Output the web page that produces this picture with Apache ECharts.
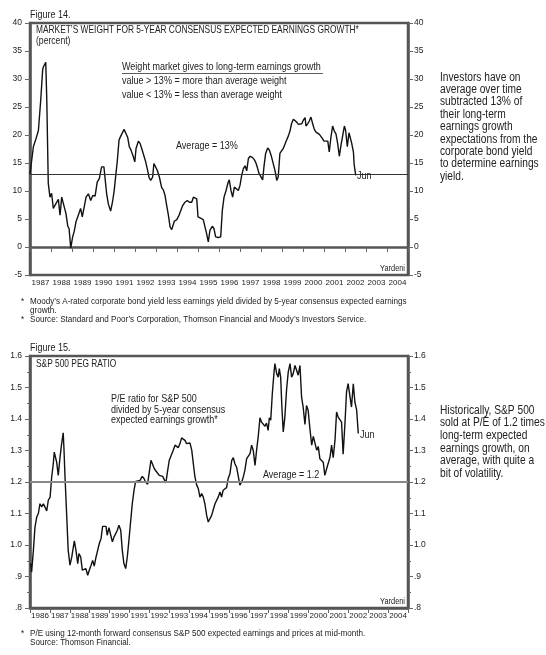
<!DOCTYPE html>
<html><head><meta charset="utf-8">
<script src="https://cdn.jsdelivr.net/npm/echarts@6/dist/echarts.min.js"></script>
<style>html,body{margin:0;padding:0;background:#fff;}#c{width:546px;height:655px;}</style>
</head><body><div id="c"></div>
<script>
const years1 = ['1987','1988','1989','1990','1991','1992','1993','1994','1995','1996','1997','1998','1999','2000','2001','2002','2003','2004'];
const years2 = ['1986','1987','1988','1989','1990','1991','1992','1993','1994','1995','1996','1997','1998','1999','2000','2001','2002','2003','2004'];

// Figure 14: market's weight (percent), dates in decimal years
const t1 = [1987.00,1987.16,1987.29,1987.40,1987.51,1987.60,1987.63,1987.75,1987.80,1987.87,1987.95,1988.03,1988.11,1988.24,1988.35,1988.43,1988.51,1988.59,1988.71,1988.80,1988.86,1988.94,1989.03,1989.10,1989.19,1989.25,1989.33,1989.41,1989.49,1989.57,1989.67,1989.78,1989.82,1989.89,1989.99,1990.10,1990.20,1990.30,1990.41,1990.52,1990.59,1990.65,1990.73,1990.84,1990.94,1991.01,1991.08,1991.16,1991.24,1991.32,1991.40,1991.48,1991.57,1991.65,1991.73,1991.81,1991.92,1991.99,1992.05,1992.16,1992.24,1992.32,1992.40,1992.51,1992.60,1992.67,1992.75,1992.84,1992.90,1992.99,1993.06,1993.16,1993.27,1993.35,1993.43,1993.51,1993.59,1993.67,1993.75,1993.80,1993.87,1993.99,1994.10,1994.18,1994.27,1994.38,1994.49,1994.59,1994.70,1994.78,1994.86,1994.94,1995.00,1995.10,1995.25,1995.33,1995.41,1995.49,1995.57,1995.68,1995.76,1995.84,1995.97,1996.08,1996.16,1996.24,1996.33,1996.44,1996.49,1996.57,1996.65,1996.73,1996.81,1996.92,1997.00,1997.08,1997.16,1997.24,1997.32,1997.40,1997.48,1997.59,1997.68,1997.76,1997.82,1997.90,1997.99,1998.08,1998.14,1998.22,1998.32,1998.40,1998.48,1998.56,1998.67,1998.75,1998.82,1998.90,1998.98,1999.06,1999.14,1999.22,1999.30,1999.38,1999.46,1999.54,1999.62,1999.70,1999.78,1999.86,1999.94,2000.01,2000.10,2000.14,2000.22,2000.30,2000.38,2000.46,2000.54,2000.62,2000.70,2000.78,2000.86,2000.92,2001.00,2001.08,2001.18,2001.25,2001.33,2001.41,2001.49,2001.57,2001.65,2001.73,2001.81,2001.89,2001.97,2002.03,2002.11,2002.19,2002.24,2002.32,2002.40,2002.44,2002.51];
const v1 = [13.0,17.9,19.4,20.8,26.2,31.5,32.1,33.0,26.2,11.4,8.9,9.6,6.9,7.8,8.5,5.7,8.9,8.6,6.0,3.7,3.3,-0.2,1.8,2.7,4.5,4.2,6.0,6.9,5.4,5.7,8.9,9.5,9.4,8.3,9.2,9.1,11.6,12.2,14.3,14.3,14.0,9.5,7.7,6.4,8.3,10.1,9.8,15.5,19.1,19.8,19.9,21.0,20.7,19.6,17.9,17.3,16.1,15.2,17.6,18.9,18.5,17.6,17.4,15.2,13.7,12.4,11.9,12.5,14.9,14.9,13.7,12.5,10.6,10.2,9.2,7.4,5.7,3.6,3.1,3.3,4.6,4.9,5.7,6.0,7.4,8.0,8.3,8.0,8.0,8.9,9.2,8.6,5.4,5.2,4.9,4.8,2.4,0.9,3.0,3.7,3.3,1.8,1.7,1.8,6.6,8.9,10.0,11.6,12.0,10.1,8.9,10.7,10.4,10.1,11.0,12.8,14.0,14.5,13.6,15.8,16.2,16.0,15.6,15.0,14.3,13.2,13.1,12.0,14.3,16.7,17.7,17.3,16.4,16.7,13.6,11.9,12.5,16.7,16.7,17.6,17.9,19.1,19.8,20.7,22.1,22.8,22.7,22.3,21.9,21.9,22.0,22.6,23.1,21.6,22.0,22.5,23.2,22.0,21.0,20.5,20.7,20.1,20.2,19.4,18.9,18.8,18.9,17.0,19.6,21.6,20.7,20.2,18.5,16.2,18.2,19.9,21.6,20.8,17.9,20.4,20.5,18.5,17.0,14.6,12.8];
const avg1 = 13;

// Figure 15: S&P 500 PEG ratio
const t2 = [1986.04,1986.08,1986.17,1986.25,1986.34,1986.42,1986.50,1986.59,1986.67,1986.75,1986.84,1986.92,1987.01,1987.09,1987.17,1987.22,1987.34,1987.42,1987.51,1987.59,1987.67,1987.71,1987.76,1987.84,1987.92,1988.01,1988.10,1988.18,1988.23,1988.31,1988.40,1988.46,1988.55,1988.63,1988.71,1988.81,1988.90,1988.98,1989.07,1989.15,1989.23,1989.32,1989.40,1989.48,1989.57,1989.65,1989.73,1989.82,1989.88,1989.97,1990.06,1990.14,1990.22,1990.31,1990.39,1990.47,1990.56,1990.64,1990.72,1990.81,1990.89,1990.97,1991.06,1991.14,1991.23,1991.31,1991.39,1991.53,1991.64,1991.73,1991.81,1991.91,1991.99,1992.08,1992.17,1992.25,1992.33,1992.42,1992.50,1992.58,1992.67,1992.75,1992.83,1992.92,1993.00,1993.09,1993.20,1993.29,1993.37,1993.45,1993.54,1993.62,1993.70,1993.79,1993.87,1993.95,1994.04,1994.13,1994.21,1994.29,1994.38,1994.46,1994.54,1994.63,1994.71,1994.79,1994.88,1994.96,1995.05,1995.13,1995.21,1995.30,1995.38,1995.46,1995.55,1995.63,1995.71,1995.80,1995.88,1995.96,1996.05,1996.14,1996.22,1996.30,1996.39,1996.47,1996.55,1996.64,1996.72,1996.80,1996.89,1996.97,1997.06,1997.14,1997.22,1997.31,1997.39,1997.47,1997.56,1997.64,1997.72,1997.81,1997.89,1997.97,1998.03,1998.10,1998.18,1998.26,1998.31,1998.40,1998.48,1998.53,1998.60,1998.66,1998.73,1998.81,1998.90,1998.98,1999.07,1999.15,1999.23,1999.32,1999.40,1999.48,1999.57,1999.65,1999.73,1999.82,1999.90,1999.98,2000.07,2000.16,2000.24,2000.32,2000.41,2000.49,2000.57,2000.66,2000.74,2000.82,2000.91,2000.99,2001.08,2001.16,2001.24,2001.33,2001.41,2001.49,2001.58,2001.66,2001.74,2001.83,2001.91,2001.99,2002.08,2002.16,2002.25,2002.33,2002.42,2002.50];
const v2 = [0.941,0.914,0.983,1.057,1.089,1.100,1.131,1.121,1.131,1.121,1.108,1.142,1.152,1.216,1.258,1.295,1.263,1.221,1.279,1.322,1.356,1.301,1.216,1.100,0.983,0.936,0.962,0.994,1.013,0.983,0.941,0.973,0.962,0.920,0.914,0.925,0.904,0.920,0.936,0.951,0.933,0.962,0.983,1.004,1.020,1.059,1.057,1.059,1.031,1.055,1.031,1.010,1.025,1.023,1.047,1.063,1.047,0.983,0.941,0.925,0.962,1.013,1.010,1.131,1.174,1.202,1.200,1.205,1.218,1.211,1.200,1.193,1.195,1.269,1.271,1.242,1.235,1.235,1.221,1.222,1.218,1.216,1.197,1.237,1.269,1.263,1.301,1.317,1.311,1.309,1.322,1.340,1.345,1.332,1.322,1.327,1.324,1.301,1.258,1.216,1.190,1.179,1.152,1.163,1.152,1.131,1.094,1.073,1.070,1.094,1.112,1.131,1.137,1.152,1.168,1.152,1.174,1.179,1.182,1.211,1.226,1.269,1.277,1.258,1.246,1.242,1.190,1.200,1.216,1.237,1.274,1.269,1.290,1.317,1.301,1.253,1.301,1.343,1.404,1.390,1.385,1.377,1.387,1.364,1.404,1.396,1.481,1.544,1.576,1.544,1.533,1.560,1.533,1.438,1.359,1.406,1.496,1.549,1.576,1.533,1.544,1.570,1.555,1.539,1.570,1.470,1.438,1.383,1.443,1.428,1.369,1.317,1.345,1.343,1.301,1.313,1.274,1.269,1.263,1.221,1.242,1.248,1.279,1.317,1.277,1.332,1.422,1.406,1.412,1.390,1.288,1.385,1.486,1.512,1.514,1.438,1.512,1.454,1.428,1.354];
const avg2 = 1.2;

const FONT = "'Liberation Sans',Arial,sans-serif";
const SX = 0.82;           // horizontal squeeze to mimic a narrow face
const TXT = '#222';
const AX = '#555';

const chart = echarts.init(document.getElementById('c'), null, {renderer:'canvas'});

function valueX(grid, min, max){
  return {gridIndex:grid, type:'value', position:'top', min:min, max:max, show:false};
}
function catX(grid, data){
  return {gridIndex:grid, type:'category', position:'bottom', data:data, boundaryGap:true,
    axisLine:{show:true, lineStyle:{color:AX, width:2.5}},
    axisTick:{show:true, length:5, interval:0, lineStyle:{color:'#666', width:1}},
    axisLabel:{fontFamily:FONT, fontSize:8, color:TXT, margin:4, interval:0, hideOverlap:false},
    splitLine:{show:false}};
}
function yAx(grid, pos, min, max, interval, fmt, minor){
  return {gridIndex:grid, type:'value', position:pos, min:min, max:max, interval:interval,
    axisLine:{show:true, lineStyle:{color:AX, width:2.5}},
    axisTick:{show:true, length:5, lineStyle:{color:'#666', width:1}},
    minorTick:{show:!!minor, splitNumber:2, length:3, lineStyle:{color:'#666', width:1}},
    axisLabel:{fontFamily:FONT, fontSize:8.5, color:TXT, margin:(pos==='left'?8:6), formatter:fmt},
    splitLine:{show:false}, minorSplitLine:{show:false}};
}
const fmt1 = v => String(v);
const fmt2 = v => { const s = v.toFixed(1); return v < 1 ? s.replace('0.', '.') : s; };

function text(x, y, str, size, extra, sx){
  const style = Object.assign({x:0, y:0, text:str, fill:TXT, font:size+'px '+FONT, textVerticalAlign:'middle'}, extra||{});
  return {type:'text', x:x, y:y, scaleX:(sx||SX), scaleY:1, originX:0, originY:0, silent:true, z:10, style:style};
}

const rightText1 = 'Investors have on\naverage over time\nsubtracted 13% of\ntheir long-term\nearnings growth\nexpectations from the\ncorporate bond yield\nto determine earnings\nyield.';
const rightText2 = 'Historically, S&P 500\nsold at P/E of 1.2 times\nlong-term expected\nearnings growth, on\naverage, with quite a\nbit of volatility.';

chart.setOption({
  animation:false,
  backgroundColor:'#fff',
  grid:[
    {left:30, top:23, width:378, height:252, show:true, borderColor:AX, borderWidth:2.5, backgroundColor:'transparent'},
    {left:30, top:356, width:378, height:252, show:true, borderColor:AX, borderWidth:2.5, backgroundColor:'transparent'}
  ],
  xAxis:[ valueX(0,1987,2005), catX(0,years1), valueX(1,1986,2005), catX(1,years2) ],
  yAxis:[
    yAx(0,'left',-5,40,5,fmt1,false), yAx(0,'right',-5,40,5,fmt1,false),
    yAx(1,'left',0.8,1.6,0.1,fmt2,true), yAx(1,'right',0.8,1.6,0.1,fmt2,true)
  ],
  series:[
    {type:'line', xAxisIndex:0, yAxisIndex:0, data:t1.map((t,i)=>[t,v1[i]]), symbol:'none',
      lineStyle:{color:'#111', width:1.4},
      markLine:{symbol:'none', silent:true, label:{show:false}, lineStyle:{color:'#333', width:1, type:'solid'}, data:[{yAxis:avg1}]}},
    {type:'line', xAxisIndex:2, yAxisIndex:2, data:t2.map((t,i)=>[t,v2[i]]), symbol:'none',
      lineStyle:{color:'#111', width:1.4},
      markLine:{symbol:'none', silent:true, label:{show:false}, lineStyle:{color:'#888', width:1.8, type:'solid'}, data:[{yAxis:avg2}]}}
  ],
  graphic:[
    text(30, 15, 'Figure 14.', 11),
    text(36, 30, "MARKET\u2019S WEIGHT FOR 5-YEAR CONSENSUS EXPECTED EARNINGS GROWTH*", 11, null, 0.76),
    text(36, 41, '(percent)', 10.5),
    text(122, 67, 'Weight market gives to long-term earnings growth', 11),
    {type:'line', silent:true, shape:{x1:122, y1:73.5, x2:323, y2:73.5}, style:{stroke:'#333', lineWidth:0.8}},
    text(122, 81, 'value > 13% = more than average weight', 11),
    text(122, 95, 'value < 13% = less than average weight', 11),
    text(176, 146, 'Average = 13%', 11),
    text(357, 176, 'Jun', 11),
    text(405, 269, 'Yardeni', 9, {textAlign:'right'}),
    text(440, 71, rightText1, 12, {lineHeight:12.4, textVerticalAlign:'top'}, 0.85),
    text(21, 301, '*', 9.9),
    text(30, 301, "Moody\u2019s A-rated corporate bond yield less earnings yield divided by 5-year consensus expected earnings", 9.9),
    text(30, 310, 'growth.', 9.9),
    text(21, 319, '*', 9.9),
    text(30, 319, "Source: Standard and Poor\u2019s Corporation, Thomson Financial and Moody\u2019s Investors Service.", 9.9),

    text(30, 348, 'Figure 15.', 11),
    text(36, 364, 'S&P 500 PEG RATIO', 11, null, 0.76),
    text(111, 399, 'P/E ratio for S&P 500', 11),
    text(111, 409.5, 'divided by 5-year consensus', 11),
    text(111, 420, 'expected earnings growth*', 11),
    text(263, 475, 'Average = 1.2', 11),
    text(360, 435, 'Jun', 11),
    text(405, 602, 'Yardeni', 9, {textAlign:'right'}),
    text(440, 404, rightText2, 12, {lineHeight:12.7, textVerticalAlign:'top'}, 0.85),
    text(21, 633, '*', 9.9),
    text(30, 633, 'P/E using 12-month forward consensus S&P 500 expected earnings and prices at mid-month.', 9.9),
    text(30, 642, 'Source: Thomson Financial.', 9.9)
  ]
});
</script></body></html>
